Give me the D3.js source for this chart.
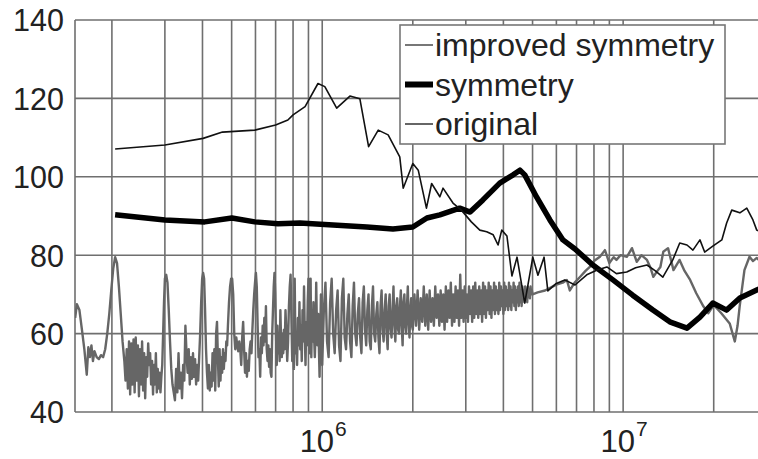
<!DOCTYPE html>
<html>
<head>
<meta charset="utf-8">
<script src="https://cdn.jsdelivr.net/npm/d3@7"></script>
<style>
  html, body { margin: 0; padding: 0; background: #fff; }
  svg { display: block; font-family: "Liberation Sans", Arial, sans-serif; }
</style>
</head>
<body>
<svg id="chart" width="758" height="459"></svg>
<script>
// Frequency response (dB) of three winding configurations, log frequency axis.

const seriesNames = ["improved symmetry", "symmetry", "original"];

const yTicks = [40, 60, 80, 100, 120, 140];
const xLabelDecades = [6, 7];
const xGrid = [2e5, 3e5, 4e5, 5e5, 6e5, 7e5, 8e5, 9e5,
               1e6, 2e6, 3e6, 4e6, 5e6, 6e6, 7e6, 8e6, 9e6, 1e7, 2e7];

// "original" (thin black)
const origF = [2.05e5, 3.0e5, 4.02e5, 4.66e5, 5.97e5, 7.0e5, 7.69e5, 8.0e5, 8.77e5, 9.68e5,
  1.02e6, 1.117e6, 1.236e6, 1.334e6, 1.426e6, 1.535e6, 1.656e6, 1.81e6, 1.858e6, 2.0e6,
  2.085e6, 2.22e6, 2.31e6, 2.46e6, 2.52e6, 2.72e6, 2.9e6, 3.13e6, 3.34e6, 3.52e6,
  3.70e6, 3.84e6, 3.95e6, 4.11e6, 4.27e6, 4.44e6, 4.71e6, 5.01e6, 5.21e6, 5.46e6,
  5.62e6, 5.97e6, 6.40e6, 6.92e6, 7.57e6, 8.2e6, 8.83e6, 9.5e6, 1.028e7, 1.1e7,
  1.2e7, 1.28e7, 1.355e7, 1.462e7, 1.542e7, 1.63e7, 1.706e7, 1.8e7, 1.866e7, 1.986e7,
  2.128e7, 2.208e7, 2.296e7, 2.443e7, 2.576e7, 2.70e7, 2.78e7, 2.85e7];
const origV = [107.1, 108.1, 109.8, 111.4, 111.9, 113.2, 114.5, 115.8, 117.9, 123.8,
  123.0, 117.5, 120.6, 119.9, 107.7, 111.9, 110.7, 105.1, 97.1, 103.4,
  101.7, 92.0, 98.3, 94.9, 97.1, 93.3, 91.5, 88.5, 86.4, 86.0,
  85.2, 82.6, 86.4, 84.9, 74.7, 79.5, 67.8, 79.5, 74.9, 79.5,
  70.9, 72.7, 73.7, 72.4, 75.0, 76.2, 77.0, 75.3, 75.7, 76.8,
  77.5, 76.0, 74.4, 78.8, 83.1, 82.6, 81.3, 83.9, 80.8, 82.3,
  83.9, 88.2, 91.5, 90.8, 92.0, 89.0, 86.4, 86.0];

// "symmetry" (thick black)
const symF = [2.05e5, 3.0e5, 4.07e5, 5.01e5, 5.97e5, 7.13e5, 8.43e5, 1.086e6, 1.406e6, 1.718e6,
  2.0e6, 2.228e6, 2.46e6, 2.864e6, 3.1e6, 3.42e6, 3.89e6, 4.31e6, 4.54e6, 4.71e6,
  5.16e6, 5.71e6, 6.31e6, 6.92e6, 7.93e6, 9.25e6, 1.076e7, 1.256e7, 1.429e7, 1.63e7,
  1.8e7, 1.986e7, 2.208e7, 2.443e7, 2.78e7, 2.85e7];
const symV = [90.3, 89.0, 88.5, 89.5, 88.5, 88.0, 88.2, 87.7, 87.2, 86.7,
  87.2, 89.5, 90.3, 92.0, 91.0, 94.1, 98.4, 100.5, 101.7, 100.5,
  94.8, 89.0, 83.9, 81.6, 77.5, 73.7, 69.8, 66.0, 63.0, 61.4,
  64.2, 67.8, 66.0, 69.1, 71.1, 71.5];

// "improved symmetry" (grey), low-frequency resonance part: 150 kHz - 1 MHz
const impLowF = [
  1.51e5, 1.53e5, 1.56e5, 1.59e5, 1.62e5, 1.65e5, 1.67e5, 1.69e5, 1.71e5, 1.73e5,
  1.75e5, 1.78e5, 1.81e5, 1.84e5, 1.87e5, 1.90e5, 1.93e5, 1.96e5, 1.99e5, 2.02e5,
  2.05e5, 2.08e5, 2.11e5, 2.14e5, 2.17e5, 2.20e5, 2.22e5, 2.24e5, 2.26e5, 2.28e5,
  2.30e5, 2.32e5, 2.34e5, 2.36e5, 2.38e5, 2.40e5, 2.42e5, 2.44e5, 2.46e5, 2.48e5,
  2.50e5, 2.52e5, 2.54e5, 2.56e5, 2.58e5, 2.60e5, 2.62e5, 2.64e5, 2.66e5, 2.68e5,
  2.70e5, 2.72e5, 2.74e5, 2.76e5, 2.78e5, 2.80e5, 2.82e5, 2.84e5, 2.86e5, 2.88e5,
  2.90e5, 2.92e5, 2.94e5, 2.96e5, 2.98e5, 3.00e5, 3.03e5, 3.06e5, 3.09e5, 3.12e5,
  3.15e5, 3.18e5, 3.21e5, 3.24e5, 3.27e5, 3.30e5, 3.33e5, 3.36e5, 3.39e5, 3.42e5,
  3.45e5, 3.48e5, 3.51e5, 3.54e5, 3.57e5, 3.60e5, 3.63e5, 3.66e5, 3.69e5, 3.72e5,
  3.75e5, 3.78e5, 3.81e5, 3.84e5, 3.87e5, 3.90e5, 3.93e5, 3.96e5, 3.99e5, 4.02e5,
  4.05e5, 4.08e5, 4.11e5, 4.14e5, 4.17e5, 4.20e5, 4.23e5, 4.26e5, 4.29e5, 4.32e5,
  4.35e5, 4.38e5, 4.41e5, 4.44e5, 4.47e5, 4.50e5, 4.53e5, 4.56e5, 4.59e5, 4.62e5,
  4.65e5, 4.68e5, 4.71e5, 4.74e5, 4.77e5, 4.80e5, 4.83e5, 4.86e5, 4.90e5, 4.94e5,
  4.98e5, 5.02e5, 5.06e5, 5.10e5, 5.14e5, 5.18e5, 5.22e5, 5.26e5, 5.30e5, 5.34e5,
  5.38e5, 5.42e5, 5.46e5, 5.50e5, 5.54e5, 5.58e5, 5.62e5, 5.66e5, 5.70e5, 5.74e5,
  5.78e5, 5.82e5, 5.86e5, 5.90e5, 5.94e5, 5.98e5, 6.02e5, 6.06e5, 6.10e5, 6.14e5,
  6.18e5, 6.22e5, 6.26e5, 6.30e5, 6.34e5, 6.38e5, 6.42e5, 6.46e5, 6.50e5, 6.54e5,
  6.58e5, 6.62e5, 6.66e5, 6.70e5, 6.74e5, 6.78e5, 6.82e5, 6.86e5, 6.90e5, 6.94e5,
  6.98e5, 7.02e5, 7.06e5, 7.10e5, 7.14e5, 7.18e5, 7.22e5, 7.26e5, 7.30e5, 7.34e5,
  7.38e5, 7.42e5, 7.46e5, 7.50e5, 7.55e5, 7.60e5, 7.65e5, 7.70e5, 7.75e5, 7.80e5,
  7.85e5, 7.90e5, 7.95e5, 8.00e5, 8.05e5, 8.10e5, 8.15e5, 8.20e5, 8.25e5, 8.30e5,
  8.35e5, 8.40e5, 8.45e5, 8.50e5, 8.55e5, 8.60e5, 8.65e5, 8.70e5, 8.75e5, 8.80e5,
  8.85e5, 8.90e5, 8.95e5, 9.00e5, 9.05e5, 9.10e5, 9.15e5, 9.20e5, 9.25e5, 9.30e5,
  9.35e5, 9.40e5, 9.45e5, 9.50e5, 9.55e5, 9.60e5, 9.65e5, 9.70e5, 9.75e5, 9.80e5,
  9.85e5, 9.90e5, 9.95e5];
const impLowV = [
  64, 67.5, 66, 61, 56, 49.5, 56.5, 54, 57, 53,
  55.5, 54, 53.5, 54.5, 54, 56, 60, 65, 71, 76.5,
  79.5, 78, 72, 65, 58, 53, 48, 56, 46, 58,
  44.5, 57.5, 47, 58.5, 45, 59, 48, 57, 44, 56,
  47, 58, 45.5, 55, 43.5, 54, 49, 57.5, 52, 55,
  47, 53, 44.5, 52, 47, 55, 45, 51, 46, 50,
  45, 49, 52, 60, 68, 74, 75, 73, 66, 58,
  51, 47, 45, 43, 51, 45, 55, 46, 50, 43.5,
  52, 48, 62, 55, 50, 56, 47, 54, 48.5, 55,
  49, 53.5, 47, 52, 48, 54, 60, 68, 74, 75.5,
  74, 66, 56, 50, 46, 52, 45.5, 50, 46.5, 55,
  48, 56, 45.5, 60, 63, 54, 46.5, 56, 48, 54,
  50, 56, 51, 55, 53, 58, 57, 62, 68, 72,
  74, 74, 70, 60, 56, 59, 57, 55.5, 58, 56,
  52, 59, 63, 56, 50, 55, 49, 53, 50.5, 56,
  58, 55, 61, 66, 70, 73, 75.5, 72, 62, 54,
  56, 49, 59, 55, 62, 57, 64, 58, 67, 56,
  53, 57, 51.5, 56, 50, 49, 60, 66, 72, 75.5,
  70, 60, 52, 62, 55, 60, 53, 66, 58, 54,
  60, 55, 61, 56, 66, 60, 53, 58, 67, 72,
  75, 64, 53, 60, 51, 74, 55, 58, 52, 64,
  57, 68, 56, 62, 53, 66, 58, 72, 60, 52,
  63, 57, 68, 74, 62, 55, 74, 54, 66, 58,
  68, 59, 54, 60, 73, 62, 57, 65, 56, 49,
  60, 70, 62];

// dense band 1 - 2 MHz
const impMidF = [
  1.0e6, 1.0125e6, 1.025e6, 1.0375e6, 1.05e6, 1.0625e6, 1.075e6, 1.0875e6,
  1.1e6, 1.1125e6, 1.125e6, 1.1375e6, 1.15e6, 1.1625e6, 1.175e6, 1.1875e6,
  1.2e6, 1.2125e6, 1.225e6, 1.2375e6, 1.25e6, 1.2625e6, 1.275e6, 1.2875e6,
  1.3e6, 1.3125e6, 1.325e6, 1.3375e6, 1.35e6, 1.3625e6, 1.375e6, 1.3875e6,
  1.4e6, 1.4125e6, 1.425e6, 1.4375e6, 1.45e6, 1.4625e6, 1.475e6, 1.4875e6,
  1.5e6, 1.5125e6, 1.525e6, 1.5375e6, 1.55e6, 1.5625e6, 1.575e6, 1.5875e6,
  1.6e6, 1.6125e6, 1.625e6, 1.6375e6, 1.65e6, 1.6625e6, 1.675e6, 1.6875e6,
  1.7e6, 1.7125e6, 1.725e6, 1.7375e6, 1.75e6, 1.7625e6, 1.775e6, 1.7875e6,
  1.8e6, 1.8125e6, 1.825e6, 1.8375e6, 1.85e6, 1.8625e6, 1.875e6, 1.8875e6,
  1.9e6, 1.9125e6, 1.925e6, 1.9375e6, 1.95e6, 1.9625e6, 1.975e6, 1.9875e6,
  2.0e6];
const impMidV = [
  52, 66, 73, 58, 54, 68, 74, 60,
  55, 66, 71, 57, 53, 69, 74, 59,
  56, 65, 70, 58, 54, 67, 73, 60,
  57, 65, 69, 59, 55, 68, 72, 61,
  57, 66, 70, 58, 56, 67, 72, 60,
  58, 65, 68, 59, 55, 67, 71, 61,
  58, 66, 70, 60, 56, 67, 70, 61,
  59, 66, 72, 62, 58, 67, 69, 61,
  60, 67, 71, 62, 57, 68, 70, 62,
  60, 67, 72, 63, 59, 66, 69, 62,
  61];

// dense band 2 - 5 MHz
const impHighF = [
  2.025e6, 2.05e6, 2.075e6, 2.1e6, 2.125e6, 2.15e6, 2.175e6, 2.2e6,
  2.225e6, 2.25e6, 2.275e6, 2.3e6, 2.325e6, 2.35e6, 2.375e6, 2.4e6,
  2.425e6, 2.45e6, 2.475e6, 2.5e6, 2.525e6, 2.55e6, 2.575e6, 2.6e6,
  2.625e6, 2.65e6, 2.675e6, 2.7e6, 2.725e6, 2.75e6, 2.775e6, 2.8e6,
  2.825e6, 2.85e6, 2.875e6, 2.9e6, 2.925e6, 2.95e6, 2.975e6, 3.0e6,
  3.025e6, 3.05e6, 3.075e6, 3.1e6, 3.125e6, 3.15e6, 3.175e6, 3.2e6,
  3.225e6, 3.25e6, 3.275e6, 3.3e6, 3.325e6, 3.35e6, 3.375e6, 3.4e6,
  3.425e6, 3.45e6, 3.475e6, 3.5e6, 3.525e6, 3.55e6, 3.575e6, 3.6e6,
  3.625e6, 3.65e6, 3.675e6, 3.7e6, 3.725e6, 3.75e6, 3.775e6, 3.8e6,
  3.825e6, 3.85e6, 3.875e6, 3.9e6, 3.925e6, 3.95e6, 3.975e6, 4.0e6,
  4.025e6, 4.05e6, 4.075e6, 4.1e6, 4.125e6, 4.15e6, 4.175e6, 4.2e6,
  4.225e6, 4.25e6, 4.275e6, 4.3e6, 4.325e6, 4.35e6, 4.375e6, 4.4e6,
  4.425e6, 4.45e6, 4.475e6, 4.5e6, 4.525e6, 4.55e6, 4.575e6, 4.6e6,
  4.625e6, 4.65e6, 4.675e6, 4.7e6, 4.725e6, 4.75e6, 4.775e6, 4.8e6,
  4.825e6, 4.85e6, 4.875e6, 4.9e6, 4.925e6, 4.95e6, 4.975e6, 5.0e6];
const impHighV = [
  70, 62, 71, 61, 69, 63, 72, 62,
  70, 61, 71, 63, 69, 62, 72, 64,
  70, 62, 71, 63, 70, 61, 72, 63,
  71, 64, 73, 62, 70, 63, 72, 64,
  71, 62, 75, 64, 71, 63, 72, 64,
  70, 63, 72, 65, 71, 63, 72, 64,
  73, 65, 71, 64, 72, 65, 71, 63,
  73, 65, 72, 64, 71, 66, 73, 65,
  72, 64, 71, 66, 73, 65, 72, 66,
  71, 65, 73, 66, 72, 67, 71, 65,
  73, 66, 72, 67, 71, 66, 73, 67,
  72, 66, 71, 68, 73, 67, 72, 66,
  71, 68, 72, 67, 73, 68, 71, 67,
  72, 69, 71, 68, 72, 69, 71, 68,
  72, 70, 71, 69, 72, 70, 71, 70];

// smoother upper part 5 - 28.5 MHz
const impTopF = [
  5.2e6, 5.5e6, 5.7e6, 6.0e6, 6.3e6, 6.5e6, 6.65e6, 6.9e6, 7.2e6,
  7.5e6, 7.75e6, 8.0e6, 8.37e6, 8.7e6, 9.0e6, 9.3e6, 9.5e6, 9.8e6, 1.03e7,
  1.07e7, 1.11e7, 1.15e7, 1.2e7, 1.23e7, 1.26e7, 1.3e7, 1.33e7, 1.36e7, 1.41e7,
  1.44e7, 1.47e7, 1.54e7, 1.6e7, 1.67e7, 1.75e7, 1.85e7, 1.92e7, 2.0e7, 2.12e7,
  2.26e7, 2.35e7, 2.4e7, 2.44e7, 2.53e7, 2.63e7, 2.7e7, 2.78e7, 2.85e7];
const impTopV = [
  70.5, 71, 71.6, 72.5, 73, 73.7, 71, 73, 74.5,
  76, 77, 78.5, 79.6, 81.3, 78, 79.5, 78.8, 80, 79.6,
  81.8, 78.3, 80, 78.8, 77, 74.5, 76, 77, 80.9, 81.8,
  79, 76.2, 78.8, 76, 73.7, 70.3, 66.9, 65.2, 67.3, 65.2,
  62.6, 58, 62, 67, 76.2, 79.6, 78.5, 79.3, 78.5];

const impF = impLowF.concat(impMidF, impHighF, impTopF);
const impV = impLowV.concat(impMidV, impHighV, impTopV);

const margin = { left: 75, top: 20, right: 760, bottom: 412 };

const svg = d3.select("#chart");

const x = d3.scaleLog().domain([1.508e5, 2.85e7]).range([margin.left, margin.right]);
const y = d3.scaleLinear().domain([40, 140]).range([margin.bottom, margin.top]);

const gridColor = "#6f6f6f";

// grid
const grid = svg.append("g");
grid.selectAll("line.v").data(xGrid).join("line")
  .attr("x1", d => x(d)).attr("x2", d => x(d))
  .attr("y1", y(40)).attr("y2", y(140))
  .attr("stroke", gridColor).attr("stroke-width", 1.6);
grid.selectAll("line.h").data(yTicks).join("line")
  .attr("x1", margin.left).attr("x2", 758)
  .attr("y1", d => y(d)).attr("y2", d => y(d))
  .attr("stroke", gridColor).attr("stroke-width", 1.6);
grid.append("line")
  .attr("x1", margin.left).attr("x2", margin.left)
  .attr("y1", y(40)).attr("y2", y(140))
  .attr("stroke", gridColor).attr("stroke-width", 1.6);

// y axis labels
const yAxis = d3.axisLeft(y).tickValues(yTicks).tickSize(0).tickPadding(11);
const yg = svg.append("g").attr("transform", `translate(${margin.left},0)`).call(yAxis);
yg.select(".domain").remove();
yg.selectAll("text")
  .attr("font-size", 30.5).attr("fill", "#222")
  .attr("font-family", "'Liberation Sans', Arial, sans-serif")
  .attr("dy", "0.36em");

// x decade labels with superscript exponent
const xl = svg.append("g");
xLabelDecades.forEach(e => {
  const t = xl.append("text")
    .attr("x", x(Math.pow(10, e)) + 1)
    .attr("y", 452)
    .attr("text-anchor", "middle")
    .attr("fill", "#222")
    .attr("font-size", 31);
  t.append("tspan").text("10");
  t.append("tspan").attr("font-size", 21).attr("dy", -16).attr("dx", 1).text(String(e));
});

// series
svg.append("clipPath").attr("id", "plotclip")
  .append("rect").attr("x", margin.left).attr("y", margin.top - 5)
  .attr("width", 758 - margin.left).attr("height", margin.bottom - margin.top + 10);

const line = d3.line().x(d => x(d[0])).y(d => y(d[1]));
const zip = (a, b) => a.map((v, i) => [v, b[i]]);

const plot = svg.append("g").attr("clip-path", "url(#plotclip)");
plot.append("path").datum(zip(impF, impV))
  .attr("d", line).attr("fill", "none")
  .attr("stroke", "#666").attr("stroke-width", 2.4).attr("stroke-linejoin", "round");
plot.append("path").datum(zip(symF, symV))
  .attr("d", line).attr("fill", "none")
  .attr("stroke", "#000").attr("stroke-width", 5.5).attr("stroke-linejoin", "round");
plot.append("path").datum(zip(origF, origV))
  .attr("d", line).attr("fill", "none")
  .attr("stroke", "#111").attr("stroke-width", 1.6).attr("stroke-linejoin", "round");

// legend
const lg = svg.append("g");
lg.append("rect").attr("x", 400).attr("y", 25).attr("width", 325).attr("height", 119)
  .attr("fill", "#fff").attr("stroke", "#777").attr("stroke-width", 1.6);
const legendStyles = [
  { color: "#777", width: 2 },
  { color: "#000", width: 6 },
  { color: "#555", width: 1.8 }
];
seriesNames.forEach((name, i) => {
  const cy = 45 + i * 39.5;
  lg.append("line").attr("x1", 405).attr("x2", 433).attr("y1", cy).attr("y2", cy)
    .attr("stroke", legendStyles[i].color).attr("stroke-width", legendStyles[i].width);
  lg.append("text").attr("x", 435).attr("y", cy + 11)
    .attr("font-size", 32).attr("fill", "#222").text(name);
});
</script>
</body>
</html>
